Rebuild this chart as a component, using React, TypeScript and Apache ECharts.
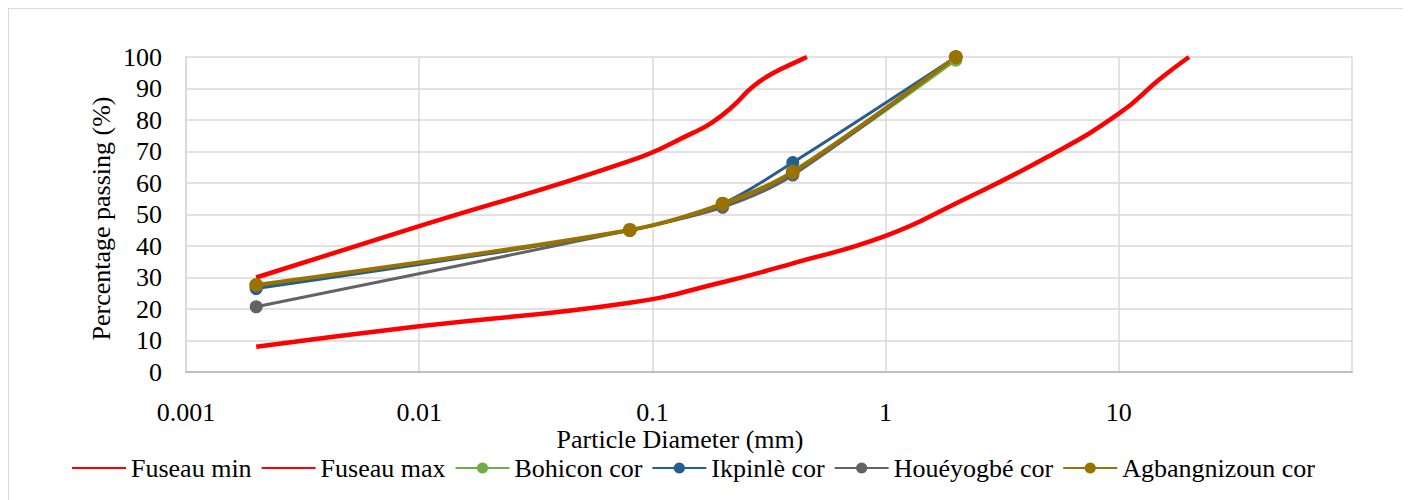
import React, { useEffect, useRef } from "react";
import * as echarts from "echarts";

// Sieve sizes (mm) for the tested samples
const sieveSizes = [0.002, 0.08, 0.2, 0.4, 2];
const bohicon = [27, 45, 53, 63, 99];
const ikpinle = [26.5, 45, 53.5, 66.5, 100];
const houeyogbe = [20.7, 45, 52.3, 62.5, 100];
const agbangnizoun = [27.6, 45.1, 53.4, 63.6, 100];

// Envelope (fuseau) curves
const fuseauMinSizes = [0.002, 0.01, 0.08, 0.2, 0.4, 1, 2, 5, 10, 15, 20];
const fuseauMinValues = [8, 14.5, 22, 28.5, 34.5, 43.2, 53.5, 68.5, 82, 93, 100];
const fuseauMaxSizes = [0.002, 0.01, 0.08, 0.15, 0.18, 0.22, 0.27, 0.33, 0.43, 0.46];
const fuseauMaxValues = [30, 46.3, 67, 76, 79.2, 84.2, 90.6, 94.9, 99, 100];

const seriesNames = [
  "Fuseau min",
  "Fuseau max",
  "Bohicon cor",
  "Ikpinlè cor",
  "Houéyogbé cor",
  "Agbangnizoun cor",
];

const FONT = "Liberation Serif";

const zip = (xs: number[], ys: number[]) => xs.map((x, i) => [x, ys[i]]);

export default function App() {
  const ref = useRef<HTMLDivElement>(null);

  useEffect(() => {
    if (!ref.current) return;
    const chart = echarts.init(ref.current, undefined, { renderer: "svg" });

    const sample = (name: string, ys: number[], color: string, width: number, size: number) => ({
      name,
      type: "line",
      data: zip(sieveSizes, ys),
      smooth: 0.3,
      symbol: "circle",
      symbolSize: size,
      showSymbol: true,
      itemStyle: { color },
      lineStyle: { color, width },
      emphasis: { disabled: true },
    });

    const envelope = (name: string, xs: number[], ys: number[]) => ({
      name,
      type: "line",
      data: zip(xs, ys),
      smooth: 0.5,
      showSymbol: false,
      symbol: "none",
      itemStyle: { color: "rgba(0,0,0,0)" },
      lineStyle: { color: "#ff0000", width: 4.5 },
      emphasis: { disabled: true },
    });

    chart.setOption({
      animation: false,
      backgroundColor: "#ffffff",
      textStyle: { fontFamily: FONT },
      grid: { left: 177, top: 48, right: 56, bottom: 135, containLabel: false },
      legend: {
        left: 62,
        top: 446,
        padding: 0,
        itemWidth: 54,
        itemHeight: 14,
        itemGap: 9,
        data: seriesNames,
        textStyle: { fontFamily: FONT, fontSize: 26, color: "#000" },
      },
      xAxis: {
        type: "log",
        logBase: 10,
        min: 0.001,
        max: 100,
        axisLine: { show: true, lineStyle: { color: "#bfbfbf", width: 2 } },
        axisTick: { show: false },
        splitLine: { show: true, lineStyle: { color: "#d9d9d9", width: 1.5 } },
        axisLabel: {
          margin: 27,
          fontFamily: FONT,
          fontSize: 26,
          color: "#000",
          formatter: (v: number) => (v >= 99 ? "" : String(parseFloat(Number(v).toPrecision(3)))),
        },
      },
      yAxis: {
        type: "value",
        min: 0,
        max: 100,
        interval: 10,
        axisLine: { show: true, lineStyle: { color: "#d9d9d9", width: 1.5 } },
        axisTick: { show: false },
        splitLine: { show: true, lineStyle: { color: "#d9d9d9", width: 1.5 } },
        axisLabel: { margin: 24, fontFamily: FONT, fontSize: 26, color: "#000" },
      },
      graphic: [
        {
          type: "text",
          x: 671,
          y: 430,
          style: {
            text: "Particle Diameter (mm)",
            fontFamily: FONT,
            fontSize: 26,
            fill: "#000",
            textAlign: "center",
            textVerticalAlign: "middle",
          },
        },
        {
          type: "text",
          x: 92,
          y: 209.5,
          rotation: Math.PI / 2,
          style: {
            text: "Percentage passing (%)",
            fontFamily: FONT,
            fontSize: 26,
            fill: "#000",
            textAlign: "center",
            textVerticalAlign: "middle",
          },
        },
      ],
      series: [
        envelope(seriesNames[0], fuseauMinSizes, fuseauMinValues),
        envelope(seriesNames[1], fuseauMaxSizes, fuseauMaxValues),
        sample(seriesNames[2], bohicon, "#70ad47", 3, 13),
        sample(seriesNames[3], ikpinle, "#255e91", 3, 13),
        sample(seriesNames[4], houeyogbe, "#636363", 3, 13),
        sample(seriesNames[5], agbangnizoun, "#997300", 4, 14),
      ],
    });

    return () => chart.dispose();
  }, []);

  return (
    <div
      style={{
        width: 1401,
        height: 500,
        boxSizing: "border-box",
        border: "1px solid #d9d9d9",
        background: "#fff",
      }}
    >
      <div ref={ref} style={{ width: 1399, height: 498 }} />
    </div>
  );
}
